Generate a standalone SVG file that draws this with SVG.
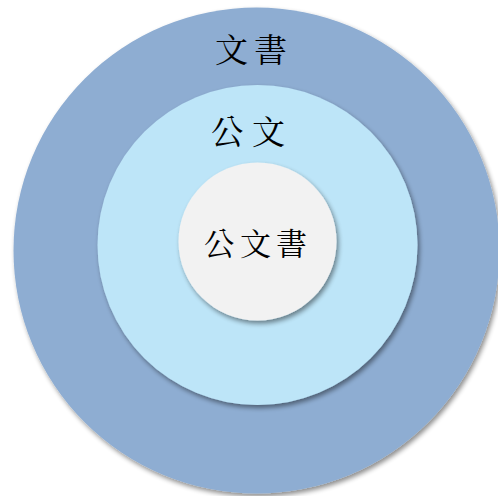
<svg xmlns="http://www.w3.org/2000/svg" width="498" height="496" viewBox="0 0 498 496">
<defs>
<filter id="sh" x="-10%" y="-10%" width="125%" height="125%">
<feGaussianBlur in="SourceAlpha" stdDeviation="2.5"/>
<feOffset dx="2" dy="3" result="b"/>
<feComponentTransfer><feFuncA type="linear" slope="0.45"/></feComponentTransfer>
<feMerge><feMergeNode/><feMergeNode in="SourceGraphic"/></feMerge>
</filter>
</defs>
<style>
.t{font-family:"Noto Serif CJK TC","Noto Sans CJK TC",serif;fill:#000;text-anchor:middle;dominant-baseline:central}
</style>
<rect width="498" height="496" fill="#fff"/>
<g id="outer">
<circle cx="256.5" cy="250.5" r="243" fill="#8EADD2" filter="url(#sh)"/>
<text class="t" x="254" y="47" font-size="33" letter-spacing="6">文書</text>
</g>
<g id="middle">
<circle cx="257.5" cy="245" r="160" fill="#BDE5F8" filter="url(#sh)"/>
<text class="t" x="252" y="129" font-size="33" letter-spacing="8">公文</text>
</g>
<g id="inner">
<circle cx="257.5" cy="241.5" r="79" fill="#F2F2F2" filter="url(#sh)"/>
<text class="t" x="258" y="241" font-size="31" letter-spacing="5">公文書</text>
</g>
<g id="connectors"/>
</svg>
